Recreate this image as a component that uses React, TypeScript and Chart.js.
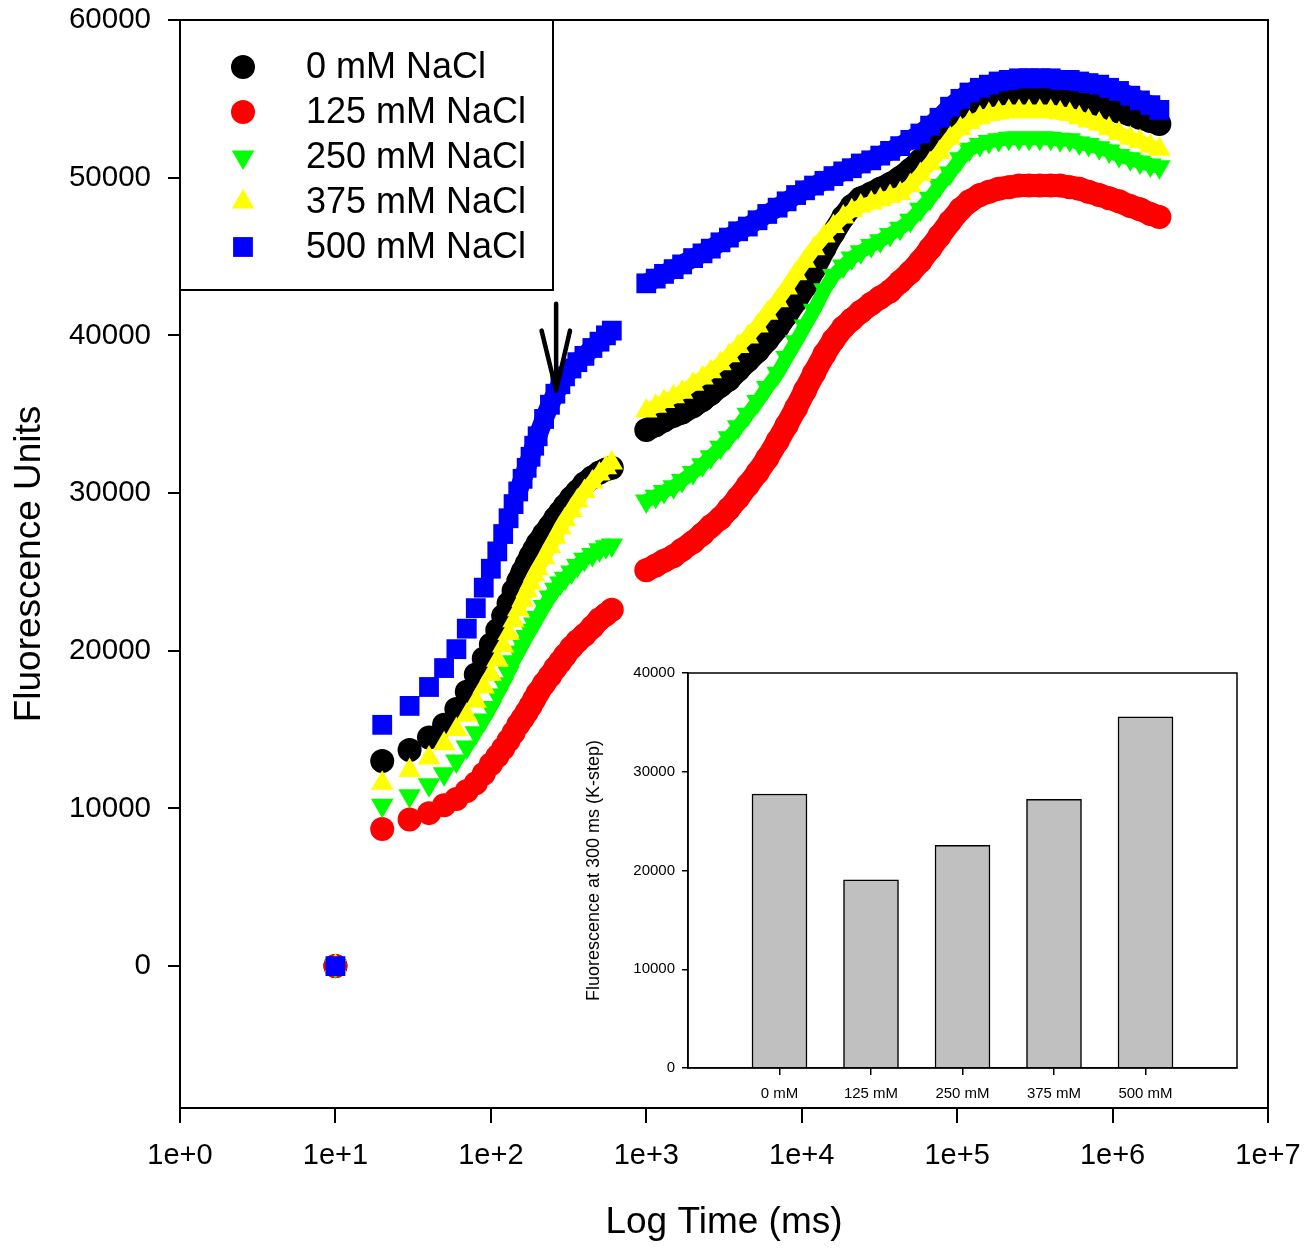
import { useEffect, useRef } from 'react';
import { Chart, registerables } from 'chart.js';

Chart.register(...registerables);

const FONT = '"Liberation Sans", Arial, Helvetica, sans-serif';

// time points (ms): first reading, fast rise, slow phase
const tFirst = [10];
const tRise = [
  20, 30, 40, 50, 60, 70, 80, 90, 100, 110, 120, 130, 140, 150, 160, 170, 180, 190, 200,
  220, 240, 260, 280, 300, 330, 360, 400, 450, 500, 550, 600,
];
const tLate = [
  1000, 1150, 1300, 1500, 1700, 2000, 2300, 2600, 3000,
  3400, 3900, 4500, 5200, 6000, 7000, 8000, 9200,
  10500, 12000, 14000, 16000, 18500, 21000, 24000, 28000, 32000, 37000, 43000, 50000, 58000, 67000, 77000, 90000,
  105000, 120000, 140000, 160000, 185000, 215000, 250000, 290000, 340000, 400000, 460000, 530000, 610000, 700000, 820000, 950000,
  1100000, 1300000, 1500000, 1750000, 2000000,
];
const times = [...tFirst, ...tRise, ...tLate];
// gaps in the recording (no data between these)
const gapTimes = [15, 800];

const nacl0 = [
  0,
  13000, 13700, 14500, 15300, 16300, 17400, 18500, 19500, 20400, 21300, 22200, 23000, 23800, 24400, 25000, 25500, 26000, 26400, 26800,
  27400, 27900, 28400, 28800, 29200, 29700, 30100, 30600, 31000, 31300, 31500, 31600,
  34000, 34300, 34600, 34900, 35100, 35500, 35900, 36300, 36800,
  37200, 37800, 38400, 39000, 39700, 40500, 41300, 42200,
  43100, 44200, 45500, 46500, 47500, 48200, 48700, 49000, 49300, 49600, 50000, 50500, 51100, 51700, 52400, 53200,
  53900, 54300, 54600, 54800, 54900, 55000, 55100, 55100, 55100, 55100, 55000, 55000, 54900, 54700, 54600, 54400,
  54200, 54000, 53800, 53600, 53400,
];
const nacl125 = [
  0,
  8700, 9300, 9700, 10200, 10600, 11100, 11600, 12200, 12800, 13300, 13800, 14300, 14800, 15300, 15700, 16100, 16500, 16900, 17300,
  17900, 18400, 18900, 19300, 19700, 20200, 20600, 21000, 21500, 22000, 22300, 22600,
  25100, 25400, 25700, 26000, 26400, 26900, 27400, 27900, 28400,
  29000, 29700, 30500, 31300, 32200, 33300, 34300, 35400,
  36500, 37600, 38800, 39700, 40500, 41000, 41500, 42000, 42400, 42800, 43400, 44000, 44700, 45500, 46300, 47200,
  48000, 48500, 48900, 49100, 49300, 49400, 49500, 49500, 49500, 49500, 49500, 49400, 49300, 49100, 48900, 48700,
  48500, 48200, 48000, 47700, 47500,
];
const nacl250 = [
  0,
  10200, 10800, 11500, 12200, 13000, 13900, 14800, 15600, 16400, 17200, 17900, 18600, 19300, 19900, 20400, 20900, 21300, 21700, 22100,
  22800, 23400, 23900, 24300, 24600, 25000, 25400, 25800, 26100, 26400, 26600, 26700,
  29500, 29800, 30100, 30400, 30800, 31300, 31800, 32300, 32900,
  33500, 34200, 35000, 35800, 36700, 37600, 38600, 39600,
  40600, 41600, 42900, 43800, 44400, 44900, 45300, 45700, 46000, 46400, 46800, 47300, 48000, 48700, 49500, 50300,
  51200, 51800, 52100, 52300, 52400, 52500, 52500, 52500, 52500, 52500, 52400, 52400, 52200, 52100, 51900, 51700,
  51400, 51200, 51000, 50800, 50700,
];
const nacl375 = [
  0,
  11600, 12400, 13200, 14100, 15000, 15900, 16800, 17700, 18500, 19400, 20300, 21100, 21900, 22600, 23200, 23800, 24300, 24800, 25200,
  25900, 26600, 27200, 27800, 28300, 28900, 29500, 30100, 30700, 31200, 31600, 31900,
  35200, 35500, 35800, 36100, 36400, 36900, 37300, 37700, 38200,
  38700, 39300, 39900, 40600, 41400, 42200, 43000, 43900,
  44700, 45500, 46300, 46900, 47500, 47900, 48200, 48400, 48600, 48800, 49000, 49500, 50200, 50900, 51600, 52500,
  53100, 53500, 53800, 54000, 54100, 54200, 54200, 54200, 54200, 54200, 54100, 54000, 53800, 53600, 53400, 53100,
  52800, 52500, 52300, 52000, 51800,
];
const nacl500 = [
  0,
  15300, 16500, 17700, 18900, 20100, 21400, 22700, 24000, 25200, 26300, 27400, 28400, 29300, 30100, 30900, 31600, 32300, 33000, 33600,
  34700, 35600, 36300, 36900, 37400, 37900, 38300, 38700, 39200, 39600, 40000, 40300,
  43300, 43600, 43900, 44200, 44500, 44900, 45200, 45500, 45900,
  46200, 46600, 46900, 47300, 47700, 48100, 48500, 48900,
  49200, 49500, 49800, 50100, 50400, 50600, 50900, 51100, 51400, 51700, 52000, 52400, 52800, 53300, 53800, 54500,
  55000, 55400, 55700, 55900, 56100, 56200, 56300, 56300, 56300, 56300, 56200, 56200, 56100, 56000, 55900, 55700,
  55500, 55200, 54900, 54600, 54300,
];

const xTickValues = [1, 10, 100, 1000, 10000, 100000, 1000000, 10000000];
const yTickValues = [0, 10000, 20000, 30000, 40000, 50000, 60000];

// K-step arrow (data coordinates)
const arrowTime = 263;
const arrowFrom = 42000;
const arrowTo = 36500;
const arrowWingTimes = [212, 323];
const arrowWingLevel = 40300;

// inset: fluorescence at 300 ms
const insetLabels = ['', '0 mM', '125 mM', '250 mM', '375 mM', '500 mM', ''];
const kStep = [null, 27750, 19050, 22550, 27200, 35550, null];
const insetTicks = [0, 10000, 20000, 30000, 40000];

const toPoints = (vals: number[]) => {
  const pts: { x: number; y: number | null }[] = vals.map((y, i) => ({ x: times[i], y }));
  const n1 = tFirst.length;
  const n2 = n1 + tRise.length;
  return [
    ...pts.slice(0, n1),
    { x: gapTimes[0], y: null },
    ...pts.slice(n1, n2),
    { x: gapTimes[1], y: null },
    ...pts.slice(n2),
  ];
};

function drawMarker(ctx: CanvasRenderingContext2D, style: string, r: number, rot: number, x: number, y: number) {
  ctx.beginPath();
  if (style === 'rect') {
    const s = Math.SQRT1_2 * r;
    ctx.rect(x - s, y - s, 2 * s, 2 * s);
  } else if (style === 'triangle') {
    let rad = (rot || 0) * Math.PI / 180;
    ctx.moveTo(x + Math.sin(rad) * r, y - Math.cos(rad) * r);
    rad += (2 * Math.PI) / 3;
    ctx.lineTo(x + Math.sin(rad) * r, y - Math.cos(rad) * r);
    rad += (2 * Math.PI) / 3;
    ctx.lineTo(x + Math.sin(rad) * r, y - Math.cos(rad) * r);
    ctx.closePath();
  } else {
    ctx.arc(x, y, r, 0, Math.PI * 2);
  }
  ctx.fill();
}

const framePlugin = (lw: number) => ({
  id: 'frame',
  afterDraw(chart: any) {
    const { ctx, chartArea: a } = chart;
    ctx.save();
    ctx.strokeStyle = '#000';
    ctx.lineWidth = lw;
    ctx.strokeRect(a.left, a.top, a.right - a.left, a.bottom - a.top);
    ctx.restore();
  },
});

const legendPlugin = {
  id: 'legendBox',
  afterDatasetsDraw(chart: any) {
    const { ctx, chartArea } = chart;
    const x0 = chartArea.left;
    const y0 = chartArea.top;
    ctx.save();
    ctx.fillStyle = '#fff';
    ctx.fillRect(x0, y0, 373, 270);
    ctx.strokeStyle = '#000';
    ctx.lineWidth = 2;
    ctx.strokeRect(x0, y0, 373, 270);
    chart.data.datasets.forEach((ds: any, i: number) => {
      const cy = y0 + 47 + i * 45;
      ctx.fillStyle = ds.pointBackgroundColor;
      drawMarker(ctx, ds.pointStyle, ds.pointRadius, ds.pointRotation, x0 + 63, cy);
      ctx.fillStyle = '#000';
      ctx.font = `36px ${FONT}`;
      ctx.textBaseline = 'middle';
      ctx.textAlign = 'left';
      ctx.fillText(ds.label, x0 + 126, cy + 1);
    });
    ctx.restore();
  },
};

const arrowPlugin = {
  id: 'kArrow',
  afterDatasetsDraw(chart: any) {
    const { ctx, scales } = chart;
    const x = scales.x.getPixelForValue(arrowTime);
    const yTop = scales.y.getPixelForValue(arrowFrom);
    const yTip = scales.y.getPixelForValue(arrowTo);
    const yWing = scales.y.getPixelForValue(arrowWingLevel);
    ctx.save();
    ctx.strokeStyle = '#000';
    ctx.lineWidth = 4.5;
    ctx.lineCap = 'round';
    ctx.lineJoin = 'round';
    ctx.beginPath();
    ctx.moveTo(x, yTop);
    ctx.lineTo(x, yTip);
    arrowWingTimes.forEach((t) => {
      ctx.moveTo(scales.x.getPixelForValue(t), yWing);
      ctx.lineTo(x, yTip);
    });
    ctx.stroke();
    ctx.restore();
  },
};

const App = () => {
  const mainRef = useRef<HTMLCanvasElement | null>(null);
  const insetRef = useRef<HTMLCanvasElement | null>(null);

  useEffect(() => {
    const charts: Chart[] = [];

    if (mainRef.current) {
      const series = [
        { label: '0 mM NaCl', vals: nacl0, color: '#000000', style: 'circle', r: 12, rot: 0, band: 23 },
        { label: '125 mM NaCl', vals: nacl125, color: '#ff0000', style: 'circle', r: 12, rot: 0, band: 23 },
        { label: '250 mM NaCl', vals: nacl250, color: '#00ff00', style: 'triangle', r: 13, rot: 180, band: 14 },
        { label: '375 mM NaCl', vals: nacl375, color: '#ffff00', style: 'triangle', r: 13, rot: 0, band: 14 },
        { label: '500 mM NaCl', vals: nacl500, color: '#0000ff', style: 'rect', r: 14, rot: 0, band: 19 },
      ];
      charts.push(
        new Chart(mainRef.current, {
          type: 'scatter',
          data: {
            datasets: series.map((s, i) => ({
              label: s.label,
              data: toPoints(s.vals),
              showLine: true,
              spanGaps: false,
              borderColor: s.color,
              borderWidth: s.band,
              borderCapStyle: 'butt',
              borderJoinStyle: 'round',
              segment: {
                borderColor: (c: any) => (c.p0.parsed.x >= 150 ? s.color : 'rgba(0,0,0,0)'),
              },
              pointStyle: s.style,
              pointRadius: s.r,
              pointRotation: s.rot,
              pointBackgroundColor: s.color,
              pointBorderColor: s.color,
              pointBorderWidth: 0,
              order: series.length - i,
            })),
          },
          options: {
            responsive: false,
            animation: false,
            events: [],
            layout: { padding: { left: 0, top: 20, right: 38, bottom: 0 } },
            plugins: { legend: { display: false }, tooltip: { enabled: false } },
            scales: {
              x: {
                type: 'logarithmic',
                min: 1,
                max: 10000000,
                afterBuildTicks: (s: any) => {
                  s.ticks = xTickValues.map((value) => ({ value }));
                },
                afterFit: (s: any) => {
                  s.height = 140;
                  s.paddingLeft = 0;
                  s.paddingRight = 0;
                },
                ticks: {
                  callback: (v: any) => '1e+' + Math.round(Math.log10(Number(v))),
                  font: { family: FONT, size: 29 },
                  color: '#000',
                  padding: 16,
                  maxRotation: 0,
                  autoSkip: false,
                },
                grid: { drawOnChartArea: false, tickLength: 15, color: '#000', lineWidth: 2 },
                border: { color: '#000', width: 2 },
                title: {
                  display: true,
                  text: 'Log Time (ms)',
                  color: '#000',
                  font: { family: FONT, size: 37 },
                  padding: { top: 0, bottom: 3 },
                },
              },
              y: {
                type: 'linear',
                min: -9000,
                max: 60000,
                afterBuildTicks: (s: any) => {
                  s.ticks = yTickValues.map((value) => ({ value }));
                },
                afterFit: (s: any) => {
                  s.width = 180;
                  s.paddingTop = 0;
                  s.paddingBottom = 0;
                },
                ticks: {
                  font: { family: FONT, size: 29.5 },
                  color: '#000',
                  padding: 17,
                  callback: (v: any) => String(v),
                },
                grid: { drawOnChartArea: false, tickLength: 12, color: '#000', lineWidth: 2 },
                border: { color: '#000', width: 2 },
                title: {
                  display: true,
                  text: 'Fluorescence Units',
                  color: '#000',
                  font: { family: FONT, size: 37 },
                  padding: { top: 8, bottom: 0 },
                },
              },
            },
          },
          plugins: [framePlugin(2), legendPlugin, arrowPlugin],
        } as any)
      );
    }

    if (insetRef.current) {
      charts.push(
        new Chart(insetRef.current, {
          type: 'bar',
          data: {
            labels: insetLabels,
            datasets: [
              {
                data: kStep,
                backgroundColor: '#c0c0c0',
                borderColor: '#000',
                borderWidth: 1.5,
                barThickness: 55,
              },
            ],
          },
          options: {
            responsive: false,
            animation: false,
            events: [],
            layout: { padding: { left: 0, top: 23, right: 23, bottom: 0 } },
            plugins: { legend: { display: false }, tooltip: { enabled: false } },
            scales: {
              x: {
                type: 'category',
                offset: false,
                afterFit: (s: any) => {
                  s.height = 42;
                  s.paddingLeft = 0;
                  s.paddingRight = 0;
                },
                ticks: {
                  font: { family: FONT, size: 15 },
                  color: '#000',
                  padding: 10,
                  maxRotation: 0,
                  autoSkip: false,
                },
                grid: {
                  offset: false,
                  drawOnChartArea: false,
                  tickLength: 7,
                  lineWidth: 1.5,
                  color: (c: any) => (c.index === 0 || c.index === insetLabels.length - 1 ? 'rgba(0,0,0,0)' : '#000'),
                },
                border: { color: '#000', width: 1.5 },
              },
              y: {
                min: 0,
                max: 40000,
                afterBuildTicks: (s: any) => {
                  s.ticks = insetTicks.map((value) => ({ value }));
                },
                afterFit: (s: any) => {
                  s.width = 128;
                  s.paddingTop = 0;
                  s.paddingBottom = 0;
                },
                ticks: {
                  font: { family: FONT, size: 15 },
                  color: '#000',
                  padding: 7,
                  callback: (v: any) => String(v),
                },
                grid: { drawOnChartArea: false, tickLength: 6, color: '#000', lineWidth: 1.5 },
                border: { color: '#000', width: 1.5 },
                title: {
                  display: true,
                  text: 'Fluorescence at 300 ms (K-step)',
                  color: '#000',
                  font: { family: FONT, size: 18 },
                  padding: { top: 23, bottom: 0 },
                },
              },
            },
          },
          plugins: [framePlugin(1.5)],
        } as any)
      );
    }

    return () => {
      charts.forEach((c) => c.destroy());
    };
  }, []);

  return (
    <div style={{ position: 'absolute', left: 0, top: 0, width: 1306, height: 1248, background: '#fff' }}>
      <canvas
        ref={mainRef}
        width={1306}
        height={1248}
        style={{ position: 'absolute', left: 0, top: 0, width: 1306, height: 1248 }}
      />
      <canvas
        ref={insetRef}
        width={700}
        height={460}
        style={{ position: 'absolute', left: 560, top: 650, width: 700, height: 460 }}
      />
    </div>
  );
};

export default App;
